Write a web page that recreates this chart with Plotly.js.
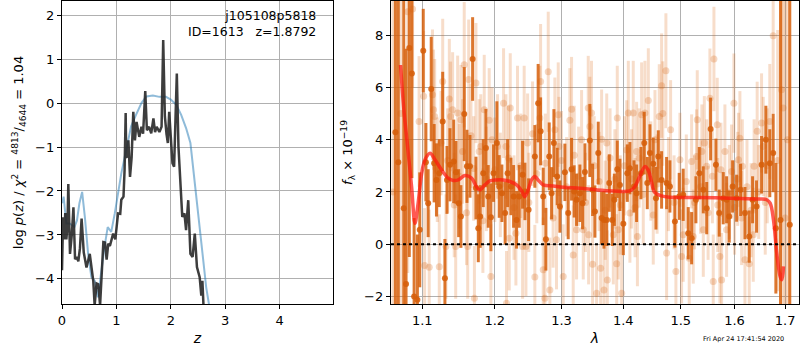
<!DOCTYPE html>
<html><head><meta charset="utf-8">
<script src="https://cdn.plot.ly/plotly-3.0.1.min.js"></script>
<style>html,body{margin:0;padding:0;background:#fff}#c{width:800px;height:350px}</style>
</head><body><div id="c"></div>
<script>
// ---- left panel: log p(z)
const zBlack = [0.00,0.02,0.04,0.06,0.08,0.10,0.116,0.147,0.18,0.21,0.24,0.27,0.30,0.33,0.36,0.40,0.45,0.51,0.575,0.60,0.635,0.667,0.70,0.73,0.76,0.79,0.82,0.85,0.88,0.94,0.98,1.03,1.07,1.09,1.13,1.15,1.17,1.18,1.20,1.22,1.25,1.28,1.31,1.34,1.37,1.42,1.46,1.49,1.53,1.56,1.60,1.64,1.68,1.71,1.74,1.79,1.83,1.86,1.89,1.92,1.945,1.97,2.00,2.03,2.06,2.11,2.14,2.18,2.21,2.25,2.28,2.32,2.36,2.40,2.44,2.48,2.53,2.56,2.58,2.60,2.62];
const pBlack = [-3.8,-2.6,-3.1,-2.5,-3.1,-2.8,-1.84,-3.43,-3.0,-2.37,-3.55,-3.5,-3.6,-3.3,-2.63,-3.4,-3.74,-3.43,-4.05,-4.6,-4.1,-4.12,-4.6,-3.9,-3.16,-3.17,-3.56,-3.2,-3.25,-2.97,-3.1,-2.51,-2.52,-2.2,-2.13,-1.52,-0.23,-1.23,-1.22,-0.85,-1.68,-1.23,-0.2,-0.85,-0.43,-0.77,-0.54,-0.7,0.27,-0.62,-0.54,-0.69,-0.35,-0.66,-0.54,-0.66,-0.54,1.43,-0.3,-0.7,-0.91,-0.2,-0.9,-1.37,-1.45,0.67,-0.99,-1.9,-2.59,-2.51,-2.89,-2.21,-3.43,-3.5,-2.97,-3.73,-3.96,-4.38,-4.04,-4.6,-4.8];
const zBlue = [0,0.03,0.08,0.14,0.23,0.275,0.32,0.37,0.42,0.48,0.54,0.60,0.66,0.72,0.78,0.84,0.905,0.97,1.03,1.09,1.18,1.27,1.36,1.46,1.55,1.67,1.79,1.91,2.0,2.1,2.19,2.28,2.36,2.40,2.45,2.5,2.54,2.6,2.65,2.7,2.75];
const pBlue = [-2.28,-2.13,-2.74,-2.74,-2.82,-2.67,-2.28,-2.02,-2.59,-3.43,-3.96,-4.04,-4.42,-3.81,-3.28,-2.82,-2.93,-2.51,-2.02,-1.6,-1.07,-0.53,-0.27,0.0,0.15,0.17,0.14,0.14,0.08,-0.04,-0.27,-0.57,-0.91,-1.37,-1.9,-2.51,-3.05,-3.66,-4.19,-4.57,-5.0];
const zTicks = [0,1,2,3,4];
const pTicks = [-4,-3,-2,-1,0,1,2];

// ---- right panel: spectrum (dark = strong points, light = weak points)
const darkLam = [1.0651,1.0688,1.0758,1.0788,1.0830,1.0864,1.0893,1.0936,1.0967,1.1013,1.1048,1.1078,1.1119,1.1158,1.1189,1.1227,1.1273,1.1303,1.1331,1.1372,1.1423,1.1454,1.1491,1.1522,1.1568,1.1606,1.1648,1.1685,1.1732,1.1765,1.1792,1.1835,1.1873,1.1906,1.1944,1.1982,1.2030,1.2064,1.2103,1.2150,1.2186,1.2235,1.2274,1.2318,1.2357,1.2407,1.2442,1.2497,
 1.2591,1.2641,1.2678,1.2718,1.2759,1.2810,1.2846,1.2882,1.2933,1.2975,1.3053,1.3105,1.3158,1.3199,1.3237,1.3290,1.3333,1.3370,1.3450,1.3494,1.3532,1.3586,1.3641,1.3680,1.3725,1.3767,1.3817,1.3851,1.3900,1.3944,1.4001,1.4068,1.4112,1.4181,1.4226,1.4300,1.4357,1.4409,1.4455,1.4513,1.4560,1.4601,1.4659,1.4747,
 1.4806,1.4895,1.4972,1.5044,1.5135,1.5197,1.5275,1.5337,1.5411,1.5474,1.5547,1.5646,1.5708,1.5784,1.5848,1.5898,1.5963,1.6040,1.6117,1.6201,1.6284,1.6350,1.6428,1.6527,1.6613,1.6691,1.6759,1.6813,1.6907,1.7096];
const darkF = [4.29,3.14,1.38,-1.52,7.51,6.53,-2.0,-2.13,0.55,7.41,3.14,1.57,5.94,3.1,2.46,2.72,4.7,-1.3,2.46,3.04,3.17,2.75,1.57,1.06,4.98,2.98,2.98,7.09,2.15,0.61,1.06,2.72,3.68,1.83,1.03,2.72,3.87,2.21,1.95,1.19,2.72,2.21,1.83,0.93,1.83,2.66,2.02,1.32,
 3.36,5.4,4.32,1.83,0.19,3.36,1.95,3.87,2.59,1.44,2.75,1.19,2.87,2.02,1.7,1.95,1.57,2.76,3.97,2.08,1.25,3.49,1.0,0.93,0.93,2.34,0.93,1.7,2.87,2.27,0.78,2.72,2.91,2.21,1.95,2.72,3.87,2.34,3.49,3.08,1.76,3.36,2.46,2.34,
 2.21,0.87,1.83,1.89,0.42,0.23,1.7,2.72,2.08,1.38,4.41,3.04,1.19,1.76,1.7,1.06,2.21,1.76,2.08,1.19,0.29,1.7,1.44,3.04,4.0,3.1,3.49,0.61,0.93,0.74];
const darkErr = [12,12,12,9,8,4,3,2.5,2.2,1.6,1.5,1.3,2.0,1.5,1.4,1.3,1.9,1.5,1.3,1.4,1.6,1.2,1.3,1.2,1.8,1.4,1.2,1.6,1.2,1.3,1.2,1.3,1.5,1.2,1.3,1.1,1.6,1.2,1.1,1.2,1.3,1.1,1.2,1.1,1.2,1.3,1.1,1.2,
 1.2,1.5,1.3,1.1,1.2,1.3,1.0,1.3,1.1,1.0,1.1,1.0,1.2,1.0,1.0,1.1,1.0,1.1,1.4,1.0,1.0,1.2,1.0,1.1,1.0,1.1,1.0,1.0,1.1,1.0,1.2,1.1,1.0,1.0,1.1,1.0,1.2,1.0,1.1,1.0,1.2,1.0,1.1,1.0,
 1.0,1.0,0.9,1.0,1.0,1.0,0.9,1.0,0.9,1.0,1.2,1.0,0.9,1.0,0.9,1.0,1.0,0.9,1.0,1.0,1.0,0.9,1.0,1.1,1.3,1.3,1.5,2.5,12,12];

const lightLam = [1.0620,1.0720,1.0810,
 1.0873,1.0958,1.1018,1.1031,1.1092,1.1136,1.1150,1.1165,1.1227,1.1250,1.1273,1.1317,1.1363,1.1380,1.1408,1.1450,1.1477,1.1522,1.1545,1.1568,1.1616,1.1630,1.1662,1.1710,1.1732,1.1778,1.1800,1.1849,1.1920,1.1944,1.1960,1.2040,1.2127,1.2162,1.2170,1.2210,1.2225,1.2308,1.2332,1.2407,1.2431,1.2457,1.2482,
 1.1200,1.1340,1.1500,1.1700,1.1880,1.2000,1.2080,1.2200,1.2280,1.2380,1.1600,1.1430,1.1830,1.2500,
 1.2556,1.2591,1.2667,1.2678,1.2718,1.2744,1.2795,1.2820,1.2897,1.2922,1.2949,1.2960,1.3027,1.3131,1.3158,1.3184,1.3237,1.3317,1.3344,1.3424,1.3430,1.3450,1.3477,1.3494,1.3559,1.3625,1.3641,1.3680,1.3725,1.3735,1.3834,1.3890,1.3900,1.3917,1.3973,1.4058,1.4085,1.4112,1.4169,1.4226,1.4240,1.4312,1.4369,1.4427,1.4513,1.4543,1.4618,
 1.2620,1.2750,1.2870,1.3000,1.3080,1.3200,1.3270,1.3380,1.3520,1.3600,1.3700,1.3780,1.3860,1.3950,1.4020,1.4140,1.4200,1.4270,1.4340,1.4470,1.4580,
 1.4659,1.4680,1.4735,1.4747,1.4818,1.4913,1.4985,1.5015,1.5044,1.5153,1.5197,1.5227,1.5287,1.5300,1.5385,1.5411,1.5430,1.5474,1.5534,1.5596,1.5609,1.5671,1.5721,1.5740,1.5753,1.5816,1.5848,1.5943,1.5988,1.6075,1.6103,1.6136,1.6150,1.6201,1.6284,1.6363,1.6380,1.6440,1.6527,1.6560,1.6691,1.6759,1.6927,1.6960,
 1.4780,1.4880,1.5100,1.5250,1.5360,1.5500,1.5580,1.5680,1.5900,1.6000,1.6060,1.6240,1.6320,1.6470,1.6600,1.6640,1.6850,1.7050,1.7000];
const lightF = [2.0,5.0,8.9,
 9.0,4.7,5.66,-0.82,-0.88,5.72,5.15,4.89,-0.86,3.87,6.23,-0.09,5.56,4.89,5.15,-0.09,5.02,4.76,3.55,6.87,-0.09,6.3,4.15,-2.07,6.17,3.55,3.74,5.15,4.74,-1.24,4.0,3.74,5.4,3.74,-2.26,0.23,5.21,0.42,4.83,-0.09,4.83,-0.09,3.87,
 2.85,3.2,2.6,2.9,2.5,2.85,2.27,3.3,1.4,3.0,1.2,1.5,0.9,1.6,
 4.23,-1.26,4.83,6.23,-0.98,-2.07,6.6,-1.75,4.38,0.17,4.96,3.74,-1.24,4.74,5.17,-0.41,0.55,4.0,0.55,5.21,0.36,4.51,5.02,-0.77,-1.88,-0.92,4.02,-1.75,3.87,-1.37,0.36,-0.75,4.83,0.55,-1.88,3.61,5.02,1.19,5.02,3.55,0.29,4.96,5.02,5.5,1.12,4.0,4.89,
 2.7,3.1,1.0,3.2,2.2,3.4,2.6,1.6,3.0,2.4,1.3,3.3,2.5,1.5,3.0,2.5,1.4,3.3,1.9,2.8,2.3,
 6.07,5.0,6.64,-0.34,4.38,-1.05,3.23,-0.47,0.36,-0.54,3.17,0.29,3.36,4.76,3.55,0.55,3.87,2.98,5.59,-1.43,7.09,4.57,-0.47,2.85,-1.37,3.55,0.55,2.78,5.4,3.23,4.06,1.0,2.98,-0.6,-0.75,0.36,2.98,4.32,4.64,3.74,4.7,7.98,5.91,5.21,
 2.3,1.6,2.4,1.6,2.2,1.2,2.6,1.5,2.0,1.4,2.5,2.2,1.3,2.0,1.6,3.0,3.2,4.0,1.0];
const lightErr = [12,10,10,
 3,2.5,2.5,2.2,2.2,2.5,2.3,2.2,2.0,2.0,2.4,2.0,2.3,2.1,2.2,2.0,2.2,2.1,2.0,2.4,2.0,2.3,2.0,2.0,2.3,2.0,2.0,2.1,2.0,2.0,2.0,2.0,2.1,2.0,2.0,2.0,2.1,2.0,2.0,2.0,2.0,1.9,1.9,
 2,2,2,2,2,2,2,2,2,2,2,2,2,1.9,
 2.0,2.0,2.0,2.2,2.0,2.0,2.3,2.0,2.0,1.9,2.0,1.9,2.0,2.0,2.0,1.9,1.9,1.9,1.9,2.0,1.9,1.9,2.0,1.9,1.9,1.9,1.9,1.9,1.9,1.9,1.9,1.9,2.0,1.9,1.9,1.9,2.0,1.9,2.0,1.9,1.9,2.0,2.0,2.0,1.9,1.9,2.0,
 1.9,1.9,1.9,1.9,1.9,1.9,1.9,1.9,1.9,1.9,1.9,1.9,1.9,1.9,1.9,1.9,1.9,1.9,1.9,1.9,1.9,
 2.0,2.0,2.2,1.8,1.9,1.8,1.8,1.8,1.8,1.8,1.8,1.8,1.8,1.9,1.8,1.8,1.8,1.8,1.9,1.8,2.0,1.8,1.8,1.8,1.8,1.8,1.8,1.8,1.9,1.8,1.8,1.8,1.8,1.8,1.8,1.8,1.8,1.9,1.9,1.9,2.2,3,6,8,
 1.8,1.8,1.8,1.8,1.8,1.8,1.8,1.8,1.8,1.8,1.8,1.8,1.8,1.8,2.0,2.2,5,10,10];

const modelLam = [1.0717,1.0760,1.0804,1.0860,1.0904,1.0940,1.0993,1.1036,1.1103,1.1170,1.1259,1.1348,1.1418,1.1486,1.1577,1.1670,1.1740,1.1786,1.1857,1.1930,1.2024,1.2121,1.2219,1.2318,1.2392,1.2441,1.2490,1.2540,1.2591,1.2640,1.2718,1.2871,1.3026,1.3289,1.3557,1.3829,1.4109,1.4194,1.4279,1.4366,1.4424,1.4481,1.4538,1.4656,1.4804,1.5291,1.5914,1.6499,1.6630,1.6698,1.6765,1.6831,1.6901,1.6936,1.6967];
const modelF = [6.86,5.14,3.86,2.2,0.8,1.44,2.72,3.23,3.48,3.23,2.84,2.53,2.44,2.46,2.63,2.53,2.2,2.08,2.27,2.42,2.46,2.46,2.4,2.27,2.05,1.82,2.08,2.46,2.59,2.46,2.27,2.23,2.18,2.14,2.08,2.04,2.04,2.2,2.59,2.97,2.84,2.4,1.98,1.85,1.8,1.79,1.76,1.73,1.7,1.57,0.93,-0.34,-1.24,-1.36,-0.85];
const lamTicks = [1.1,1.2,1.3,1.4,1.5,1.6,1.7];
const lamTickText = ['1.1','1.2','1.3','1.4','1.5','1.6','1.7'];
const fTicks = [-2,0,2,4,6,8];

const FONT = 'DejaVu Sans, sans-serif';
const axBase = {
  showline:true, linecolor:'black', linewidth:1.2, mirror:true,
  ticks:'outside', ticklen:4, tickcolor:'black', tickwidth:1,
  showgrid:true, gridcolor:'#b0b0b0', gridwidth:1, zeroline:false,
  tickfont:{family:FONT, size:13, color:'black'}
};

const traces = [
  {x:zBlue, y:pBlue, xaxis:'x', yaxis:'y', mode:'lines', line:{color:'rgba(31,119,180,0.5)', width:2}, hoverinfo:'skip'},
  {x:zBlack, y:pBlack, xaxis:'x', yaxis:'y', mode:'lines', line:{color:'rgba(40,40,40,0.9)', width:2.5}, hoverinfo:'skip'},
  {x:lightLam, y:lightF, xaxis:'x2', yaxis:'y2', mode:'markers', type:'scatter',
   marker:{size:7, color:'rgba(217,100,15,0.25)'},
   error_y:{type:'data', array:lightErr, symmetric:true, thickness:3, width:0, color:'rgba(217,100,15,0.22)'}},
  {x:darkLam, y:darkF, xaxis:'x2', yaxis:'y2', mode:'markers', type:'scatter',
   marker:{size:6, color:'rgba(214,95,10,0.88)'},
   error_y:{type:'data', array:darkErr, symmetric:true, thickness:3, width:0, color:'rgba(214,95,10,0.85)'}},
  {x:modelLam, y:modelF, xaxis:'x2', yaxis:'y2', mode:'lines', line:{color:'rgba(255,25,15,0.72)', width:3.5, shape:'spline'}, hoverinfo:'skip'}
];

const layout = {
  width:800, height:350, showlegend:false,
  margin:{l:62, r:1, t:1, b:46},
  paper_bgcolor:'white', plot_bgcolor:'white',
  font:{family:FONT, size:13, color:'black'},
  xaxis:Object.assign({}, axBase, {domain:[0,0.3677], range:[0,4.98], tickvals:zTicks, anchor:'y',
    title:{text:'<i>z</i>', font:{family:FONT,size:14}, standoff:6}}),
  yaxis:Object.assign({}, axBase, {domain:[0,1], range:[-4.57,2.32], tickvals:pTicks, anchor:'x',
    title:{text:'log <i>p</i>(<i>z</i>) / <i>χ</i><sup>2</sup> = <sup>4813</sup>/<sub>4644</sub> = 1.04', font:{family:FONT,size:13}, standoff:8}}),
  xaxis2:Object.assign({}, axBase, {domain:[0.4464,1], type:'log', range:[0.0251,0.2377], tickvals:lamTicks, ticktext:lamTickText, anchor:'y2',
    title:{text:'<i>λ</i>', font:{family:FONT,size:14}, standoff:6}}),
  yaxis2:Object.assign({}, axBase, {domain:[0,1], range:[-2.29,9.31], tickvals:fTicks, anchor:'x2',
    title:{text:'<i>f</i><sub>λ</sub> × 10<sup>−19</sup>', font:{family:FONT,size:13}, standoff:8}}),
  shapes:[
    {type:'line', xref:'x2 domain', x0:0, x1:1, yref:'y2', y0:0, y1:0, line:{color:'black', width:2, dash:'dot'}, layer:'above'}
  ],
  annotations:[
    {xref:'x domain', yref:'y domain', x:0.945, y:0.985, xanchor:'right', yanchor:'top', align:'right', showarrow:false,
     text:'j105108p5818<br>ID=1613\u00a0\u00a0\u00a0z=1.8792', font:{family:FONT, size:12.5, color:'black'}},
    {xref:'paper', yref:'paper', x:0.925, y:-0.115, xanchor:'center', yanchor:'middle', showarrow:false,
     text:'Fri Apr 24 17:41:54 2020', font:{family:FONT, size:6.5, color:'black'}}
  ]
};

Plotly.newPlot('c', traces, layout, {staticPlot:true, displayModeBar:false});
</script>
</body></html>
